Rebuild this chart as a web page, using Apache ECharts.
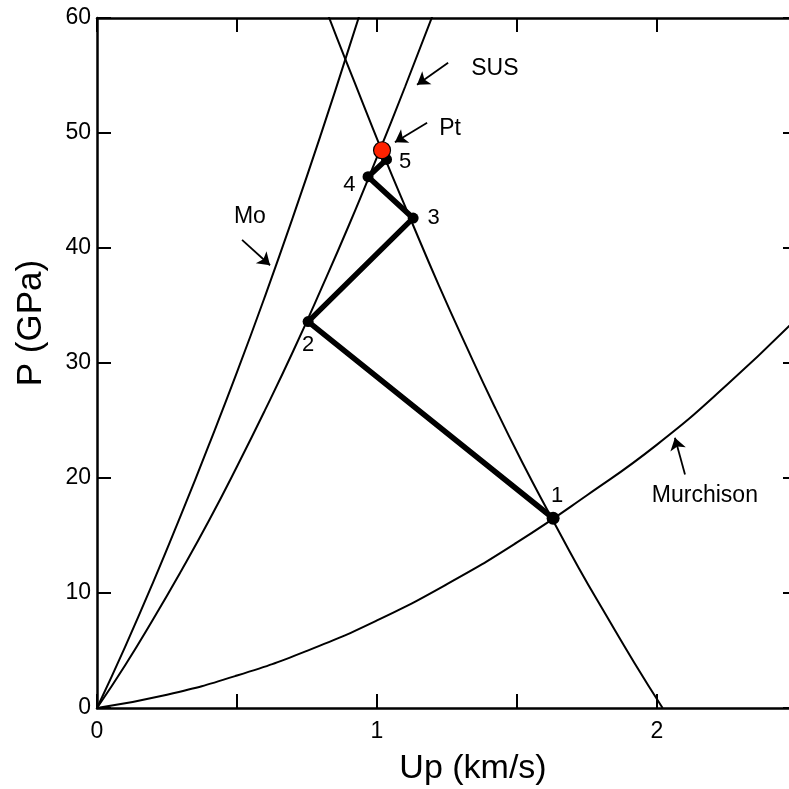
<!DOCTYPE html>
<html>
<head>
<meta charset="utf-8">
<script src="https://cdn.jsdelivr.net/npm/echarts@6/dist/echarts.min.js"></script>
<style>html,body{margin:0;padding:0;background:#fff}#c{width:789px;height:789px}</style>
</head>
<body>
<div id="c"></div>
<script>
// ---- data ----
const upMo   = [0, 0.1, 0.2, 0.3, 0.4, 0.5, 0.6, 0.7, 0.8, 0.9, 0.95];
const pMo    = [0, 5.3, 10.9, 16.8, 22.9, 29.2, 35.8, 42.7, 49.9, 57.4, 61.2];

const upSUS  = [0, 0.1, 0.2, 0.3, 0.4, 0.5, 0.6, 0.7, 0.8, 0.9, 1.0, 1.1, 1.2];
const pSUS   = [0, 3.7, 7.7, 11.9, 16.3, 21.0, 25.9, 31.0, 36.4, 42.0, 47.9, 54.0, 60.3];

const upRel  = [0.72, 0.82, 0.92, 1.02, 1.12, 1.22, 1.32, 1.42, 1.52, 1.62, 1.72, 1.82, 1.92, 2.02];
const pRel   = [67.2, 60.6, 54.4, 48.3, 42.5, 36.8, 31.4, 26.2, 21.3, 16.7, 12.2, 8.0, 3.9, 0];

const upMur  = [0, 0.25, 0.5, 0.75, 1.0, 1.25, 1.5, 1.75, 2.0, 2.25, 2.5];
const pMur   = [0, 1.16, 2.82, 4.97, 7.62, 10.77, 14.4, 18.5, 22.9, 28.1, 33.9];

const pathUp = [1.629, 0.754, 1.129, 0.968, 1.034];
const pathP  = [16.5, 33.6, 42.6, 46.2, 47.7];
const pathLabels = ['1', '2', '3', '4', '5'];

const redUp = [1.018];
const redP  = [48.5];

const xTickLabels = ['0', '1', '2'];

const noteNames = ['Mo', 'SUS', 'Pt', 'Murchison'];
const noteUp    = [0.546, 1.421, 1.261, 2.171];
const noteP     = [42.7, 55.6, 50.4, 18.5];
const arrowFrom = [[0.518, 40.7], [1.254, 56.1], [1.179, 50.9], [2.100, 20.3]];
const arrowTo   = [[0.618, 38.5], [1.143, 54.2], [1.064, 49.2], [2.064, 23.5]];

// ---- chart ----
const zip = (a, b) => a.map((v, i) => [v, b[i]]);
const FONT = 'Liberation Sans';
const chart = echarts.init(document.getElementById('c'), null, {renderer: 'canvas'});

const axisCommon = {
  axisLine: {show: true, onZero: false, lineStyle: {color: '#000', width: 2.5}},
  axisTick: {show: true, inside: true, length: 14, lineStyle: {color: '#000', width: 2}},
  splitLine: {show: false}
};

const labelPos = ['top', 'bottom', 'right', 'left', 'right'];
const labelOff = [[4, 0], [0, 2], [4, 0], [-2, 8], [2, 2]];

const option = {
  animation: false,
  backgroundColor: '#fff',
  textStyle: {fontFamily: FONT},
  grid: {left: 97, right: -8, top: 18, bottom: 81, containLabel: false, outerBoundsMode: 'none'},
  xAxis: [
    Object.assign({
      type: 'value', min: 0, max: 2.5, interval: 0.5, position: 'bottom',
      name: 'Up (km/s)', nameLocation: 'middle', nameGap: 44,
      nameTextStyle: {fontSize: 34, color: '#000', fontFamily: FONT, padding: [0, 0, 0, 52]},
      axisLabel: {
        fontSize: 23, color: '#000', fontFamily: FONT, margin: 12,
        formatter: v => (Number.isInteger(v) && v <= 2) ? xTickLabels[v] : ''
      }
    }, axisCommon),
    Object.assign({
      type: 'value', min: 0, max: 2.5, interval: 0.5, position: 'top',
      axisLabel: {show: false}
    }, axisCommon)
  ],
  yAxis: [
    Object.assign({
      type: 'value', min: 0, max: 60, interval: 10, position: 'left',
      name: 'P (GPa)', nameLocation: 'middle', nameGap: 48, nameRotate: 90,
      nameTextStyle: {fontSize: 35, color: '#000', fontFamily: FONT, padding: [0, 0, 0, 80]},
      axisLabel: {fontSize: 23, color: '#000', fontFamily: FONT, margin: 6}
    }, axisCommon),
    Object.assign({
      type: 'value', min: 0, max: 60, interval: 10, position: 'right',
      axisLabel: {show: false}
    }, axisCommon)
  ],
  series: [
    {name: 'Mo', type: 'line', data: zip(upMo, pMo), smooth: true, symbol: 'none',
     lineStyle: {color: '#000', width: 2}, clip: true, z: 2},
    {name: 'SUS', type: 'line', data: zip(upSUS, pSUS), smooth: true, symbol: 'none',
     lineStyle: {color: '#000', width: 2}, clip: true, z: 2},
    {name: 'Release', type: 'line', data: zip(upRel, pRel), smooth: true,
     symbol: 'none', lineStyle: {color: '#000', width: 2}, clip: true, z: 2},
    {name: 'Murchison', type: 'line', data: zip(upMur, pMur), smooth: true, symbol: 'none',
     lineStyle: {color: '#000', width: 2}, clip: true, z: 2},
    {name: 'Path', type: 'line', z: 5,
     data: pathUp.map((u, i) => ({
       value: [u, pathP[i]],
       symbolSize: i === 0 ? 13 : 11,
       label: {show: true, formatter: pathLabels[i], position: labelPos[i], offset: labelOff[i],
               fontSize: 22, color: '#000', fontFamily: FONT}
     })),
     symbol: 'circle', showSymbol: true,
     itemStyle: {color: '#000', opacity: 1},
     lineStyle: {color: '#000', width: 5.5}},
    {name: 'Point', type: 'scatter', z: 6,
     data: zip(redUp, redP), symbol: 'circle', symbolSize: 17,
     itemStyle: {color: '#ff2200', borderColor: '#000', borderWidth: 1.2, opacity: 1}},
    {name: 'Notes', type: 'scatter', z: 4, symbolSize: 0,
     itemStyle: {opacity: 1, color: '#000'},
     data: noteNames.map((n, i) => ({name: n, value: [noteUp[i], noteP[i]]})),
     label: {show: true, position: 'inside', formatter: p => p.name, opacity: 1,
             fontSize: 23, color: '#000', fontFamily: FONT},
     markLine: {
       silent: true, symbol: ['none', 'arrow'], symbolSize: 12,
       lineStyle: {color: '#000', type: 'solid', width: 1.8, opacity: 1},
       label: {show: false},
       data: arrowFrom.map((f, i) => [{coord: f}, {coord: arrowTo[i]}])
     }}
  ]
};
chart.setOption(option);
</script>
</body>
</html>
